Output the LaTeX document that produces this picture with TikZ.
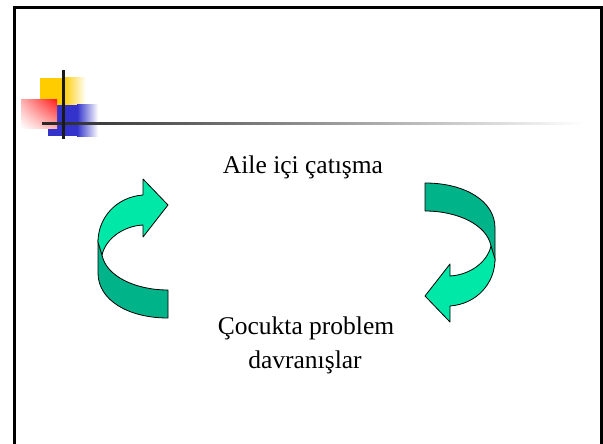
\documentclass[tikz,border=0pt]{standalone}
\usepackage{fontspec}
\setmainfont{Liberation Serif}
\usetikzlibrary{shadings}
\begin{document}
\begin{tikzpicture}[x=1pt,y=-1pt,
  lightarr/.style={fill=arrlight,draw=black,line width=0.8pt,line join=round},
  darkarr/.style={fill=arrdark,draw=black,line width=0.8pt,line join=round},
  frameline/.style={line width=2.5pt,draw=black},
  label/.style={font=\fontsize{25.5}{34}\selectfont,inner sep=0pt,align=center}]
\definecolor{arrlight}{RGB}{0,232,168}
\definecolor{arrdark}{RGB}{0,179,137}
\definecolor{logoyellow}{RGB}{255,204,0}
\definecolor{logoblue}{RGB}{51,51,204}
\definecolor{logored}{RGB}{255,30,30}
\useasboundingbox (0,0) rectangle (603,444);
\fill[white] (0,0) rectangle (603,444);
% frame
\draw[frameline] (14.5,444) -- (14.5,7.5) -- (601.5,7.5) -- (601.5,444);
% logo
\fill[logoyellow] (40,78) rectangle (63,105);
\shade[left color=logoyellow,right color=white] (63,78) rectangle (86,105);
\fill[logoblue] (48,105) rectangle (77,136);
\shade[left color=logoblue,right color=white] (77,105) rectangle (98,136);
\shade[upper right=logored,upper left=logored!35,lower right=logored!35,lower left=white] (21,100) rectangle (57,128);
\shade[left color=black!85,right color=white] (42,122) rectangle (585,124.2);
\fill[black!90] (61.5,70) rectangle (64.5,139);
% arrows
\newcommand\bandarrow{%
  \path[darkarr] (98,240) -- (98,273) .. controls (98,300) and (128,318) .. (168,318)
     -- (168,290) .. controls (135,290) and (106,276) .. (102,255) -- cycle;
  \path[lightarr] (102,255) .. controls (106,238) and (124,226) .. (143,225)
     -- (143,237) -- (168,205) -- (143,179) -- (143,195)
     .. controls (116,197) and (98,218) .. (98,242) -- cycle;
}
\bandarrow
\begin{scope}[rotate around={180:(296.5,250.5)}]
\bandarrow
\end{scope}
% texts
\node[label,anchor=base] (top) at (303,173) {Aile içi çatışma};
\node[label,anchor=base] (bot1) at (306,334) {Çocukta problem};
\node[label,anchor=base] (bot2) at (305,368) {davranışlar};
\end{tikzpicture}
\end{document}
